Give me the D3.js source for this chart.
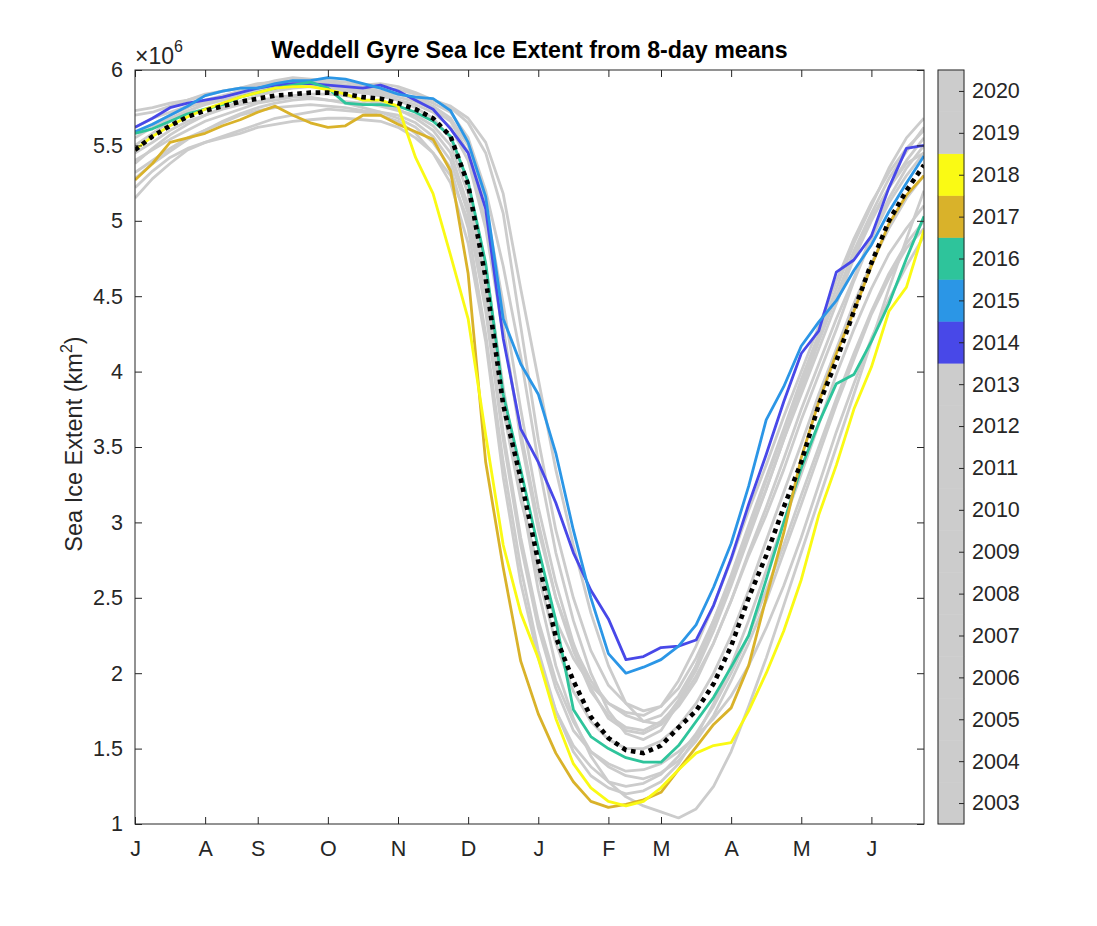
<!DOCTYPE html>
<html><head><meta charset="utf-8">
<script src="https://cdn.jsdelivr.net/npm/d3@7"></script>
<style>body{margin:0;background:#fff}text{font-family:"Liberation Sans",Arial,Helvetica,sans-serif}</style>
</head><body><svg id="c" width="1097" height="926"></svg>
<script>
// ---- data (extent in millions of km^2, 46 eight-day periods starting 1 July) ----
const monthTicks  = [1, 5, 8, 12, 16, 20, 24, 28, 31, 35, 39, 43];
const monthLabels = ["J","A","S","O","N","D","J","F","M","A","M","J"];
const yTicks = [1, 1.5, 2, 2.5, 3, 3.5, 4, 4.5, 5, 5.5, 6];
const years = [2003,2004,2005,2006,2007,2008,2009,2010,2011,2012,2013,2014,2015,2016,2017,2018,2019,2020];
const highlightYears  = [2014, 2015, 2016, 2017, 2018];
const highlightColors = ["#4848e8", "#2b96e6", "#2ec49b", "#d9b22a", "#fafa14"];
const greyColor = "#cccccc";

const ext2003 = [5.73,5.75,5.78,5.80,5.83,5.86,5.88,5.90,5.93,5.95,5.94,5.93,5.92,5.90,5.91,5.89,5.85,5.80,5.76,5.68,5.52,5.18,4.55,3.95,3.35,2.85,2.40,2.05,1.80,1.68,1.66,1.78,1.95,2.20,2.48,2.80,3.10,3.42,3.75,4.05,4.35,4.62,4.90,5.15,5.35,5.50];
const ext2004 = [5.70,5.72,5.76,5.80,5.84,5.86,5.88,5.91,5.92,5.93,5.91,5.90,5.88,5.86,5.85,5.84,5.82,5.78,5.72,5.55,5.20,4.70,4.10,3.40,2.80,2.35,2.00,1.75,1.60,1.56,1.62,1.80,2.05,2.35,2.65,2.98,3.30,3.62,3.95,4.25,4.55,4.85,5.10,5.35,5.55,5.68];
const ext2005 = [5.15,5.28,5.38,5.47,5.52,5.56,5.60,5.64,5.68,5.70,5.72,5.74,5.73,5.72,5.70,5.66,5.58,5.45,5.25,4.85,4.20,3.30,2.60,2.10,1.75,1.52,1.38,1.28,1.25,1.27,1.33,1.45,1.60,1.78,2.00,2.25,2.55,2.85,3.18,3.50,3.82,4.12,4.40,4.65,4.85,5.00];
const ext2006 = [5.38,5.48,5.57,5.64,5.70,5.75,5.79,5.83,5.86,5.88,5.89,5.88,5.86,5.85,5.83,5.80,5.77,5.72,5.62,5.40,4.95,4.25,3.60,3.00,2.50,2.15,1.88,1.72,1.64,1.62,1.68,1.80,1.98,2.20,2.48,2.78,3.05,3.35,3.68,3.98,4.28,4.60,4.88,5.12,5.30,5.45];
const ext2007 = [5.22,5.33,5.42,5.48,5.52,5.55,5.58,5.62,5.64,5.66,5.67,5.68,5.68,5.67,5.66,5.62,5.55,5.45,5.30,5.00,4.45,3.60,2.90,2.35,1.95,1.68,1.48,1.38,1.32,1.30,1.34,1.42,1.55,1.72,1.95,2.20,2.48,2.80,3.12,3.45,3.78,4.08,4.38,4.62,4.82,4.95];
const ext2008 = [5.55,5.62,5.68,5.73,5.77,5.80,5.83,5.86,5.88,5.89,5.90,5.89,5.87,5.85,5.83,5.80,5.75,5.68,5.55,5.25,4.70,3.90,3.20,2.55,2.05,1.70,1.45,1.28,1.18,1.12,1.08,1.04,1.10,1.25,1.48,1.78,2.10,2.45,2.80,3.15,3.50,3.85,4.20,4.55,4.88,5.20];
const ext2009 = [5.45,5.52,5.60,5.66,5.70,5.74,5.77,5.79,5.82,5.83,5.84,5.84,5.83,5.80,5.78,5.74,5.68,5.60,5.45,5.10,4.50,3.75,3.15,2.70,2.35,2.10,1.92,1.80,1.74,1.72,1.78,1.95,2.18,2.45,2.75,3.08,3.38,3.70,4.00,4.30,4.60,4.88,5.12,5.32,5.48,5.60];
const ext2010 = [5.62,5.68,5.72,5.76,5.80,5.83,5.86,5.89,5.91,5.92,5.92,5.91,5.90,5.89,5.88,5.87,5.84,5.80,5.75,5.65,5.45,5.05,4.30,3.55,2.95,2.50,2.15,1.92,1.80,1.75,1.78,1.90,2.10,2.35,2.62,2.92,3.22,3.55,3.85,4.15,4.45,4.75,5.00,5.22,5.40,5.55];
const ext2011 = [5.32,5.40,5.48,5.55,5.60,5.65,5.70,5.73,5.75,5.76,5.77,5.76,5.75,5.73,5.72,5.70,5.65,5.56,5.40,5.05,4.40,3.55,2.85,2.30,1.90,1.62,1.48,1.40,1.35,1.36,1.40,1.48,1.58,1.70,1.85,2.05,2.30,2.58,2.90,3.25,3.60,3.92,4.22,4.48,4.70,4.90];
const ext2012 = [5.50,5.58,5.66,5.72,5.78,5.82,5.86,5.89,5.91,5.93,5.93,5.92,5.90,5.88,5.86,5.84,5.81,5.76,5.68,5.50,5.10,4.45,3.75,3.10,2.60,2.20,1.90,1.70,1.62,1.60,1.66,1.82,2.02,2.28,2.58,2.90,3.22,3.55,3.88,4.20,4.50,4.80,5.05,5.28,5.46,5.62];
const ext2013 = [5.40,5.47,5.54,5.60,5.66,5.70,5.74,5.78,5.80,5.82,5.82,5.80,5.79,5.78,5.76,5.73,5.70,5.63,5.50,5.18,4.60,3.85,3.20,2.65,2.20,1.88,1.68,1.56,1.50,1.50,1.55,1.65,1.80,2.00,2.25,2.55,2.88,3.20,3.52,3.85,4.15,4.45,4.72,4.95,5.15,5.30];
const ext2014 = [5.62,5.68,5.75,5.78,5.80,5.82,5.85,5.88,5.90,5.91,5.91,5.90,5.89,5.88,5.90,5.86,5.80,5.74,5.61,5.45,5.08,4.22,3.62,3.40,3.13,2.80,2.55,2.36,2.09,2.11,2.17,2.18,2.22,2.45,2.76,3.12,3.45,3.80,4.12,4.27,4.66,4.74,4.90,5.22,5.48,5.50];
const ext2015 = [5.59,5.64,5.70,5.76,5.83,5.86,5.88,5.88,5.91,5.93,5.93,5.95,5.94,5.91,5.88,5.84,5.82,5.81,5.73,5.52,5.16,4.35,4.05,3.85,3.46,2.95,2.50,2.13,2.00,2.04,2.09,2.18,2.32,2.57,2.86,3.24,3.68,3.90,4.17,4.33,4.47,4.67,4.84,5.06,5.25,5.43];
const ext2016 = [5.58,5.61,5.66,5.71,5.74,5.77,5.82,5.85,5.88,5.90,5.92,5.88,5.78,5.77,5.77,5.76,5.72,5.66,5.56,5.26,4.72,3.85,3.35,2.83,2.35,1.76,1.58,1.50,1.44,1.41,1.41,1.52,1.68,1.84,2.04,2.25,2.62,3.00,3.36,3.66,3.92,3.98,4.20,4.45,4.75,5.03];
const ext2017 = [5.27,5.38,5.52,5.55,5.58,5.63,5.67,5.72,5.76,5.70,5.65,5.62,5.63,5.70,5.70,5.64,5.59,5.54,5.33,4.65,3.40,2.70,2.08,1.73,1.47,1.28,1.15,1.11,1.13,1.16,1.21,1.36,1.51,1.66,1.77,2.05,2.50,2.93,3.43,3.80,4.12,4.40,4.70,4.98,5.17,5.30];
const ext2018 = [5.47,5.56,5.63,5.69,5.74,5.78,5.82,5.85,5.88,5.89,5.89,5.87,5.84,5.80,5.80,5.76,5.42,5.18,4.77,4.35,3.58,2.85,2.40,2.10,1.70,1.40,1.24,1.15,1.12,1.15,1.24,1.36,1.47,1.52,1.54,1.75,2.00,2.28,2.62,3.05,3.38,3.75,4.03,4.40,4.56,4.94];
const ext2019 = [5.28,5.38,5.46,5.54,5.60,5.66,5.71,5.75,5.78,5.80,5.81,5.80,5.78,5.75,5.72,5.68,5.62,5.52,5.35,4.95,4.25,3.40,2.70,2.15,1.75,1.48,1.32,1.24,1.20,1.22,1.28,1.40,1.58,1.80,2.05,2.35,2.68,3.00,3.32,3.65,3.98,4.28,4.55,4.78,4.95,5.10];
const ext2020 = [5.58,5.64,5.70,5.75,5.79,5.82,5.85,5.87,5.89,5.90,5.90,5.89,5.88,5.86,5.84,5.82,5.79,5.74,5.66,5.45,5.00,4.30,3.55,2.95,2.50,2.18,1.95,1.80,1.72,1.68,1.72,1.85,2.05,2.32,2.62,2.95,3.28,3.60,3.92,4.22,4.50,4.78,5.02,5.22,5.38,5.45];
const extMean = [5.47,5.56,5.63,5.69,5.73,5.76,5.79,5.81,5.83,5.84,5.85,5.85,5.84,5.82,5.81,5.78,5.74,5.68,5.56,5.24,4.62,3.78,3.29,2.74,2.24,1.95,1.71,1.57,1.49,1.47,1.52,1.64,1.75,1.93,2.18,2.50,2.78,3.10,3.40,3.78,4.07,4.40,4.72,5.00,5.20,5.37];

const series = {2003:ext2003,2004:ext2004,2005:ext2005,2006:ext2006,2007:ext2007,2008:ext2008,2009:ext2009,
  2010:ext2010,2011:ext2011,2012:ext2012,2013:ext2013,2014:ext2014,2015:ext2015,2016:ext2016,2017:ext2017,
  2018:ext2018,2019:ext2019,2020:ext2020};

// ---- layout ----
const L = 135, R = 924, T = 70, B = 824;
const svg = d3.select("#c");
svg.append("rect").attr("width",1097).attr("height",926).attr("fill","#fff");

const x = d3.scaleLinear().domain([1, 46]).range([L, R]);
const y = d3.scaleLinear().domain([1, 6]).range([B, T]);
const colorOf = yr => { const k = highlightYears.indexOf(yr); return k < 0 ? greyColor : highlightColors[k]; };

svg.append("clipPath").attr("id","clip").append("rect").attr("x",L).attr("y",T).attr("width",R-L).attr("height",B-T);
const g = svg.append("g").attr("clip-path","url(#clip)");
const line = d3.line().x((d,i) => x(i+1)).y(d => y(d));

const order = years.filter(v => highlightYears.indexOf(v) < 0).concat(highlightYears);
order.forEach(yr => {
  g.append("path").datum(series[yr]).attr("d", line)
    .attr("fill","none").attr("stroke", colorOf(yr)).attr("stroke-width", 2.8)
    .attr("stroke-linejoin","round");
});
g.append("path").datum(extMean).attr("d", line)
  .attr("fill","none").attr("stroke","#000").attr("stroke-width",4.6)
  .attr("stroke-dasharray","4.6,4.6");

// ---- axes ----
const axisColor = "#262626";
const fs = "21.5px";
const xb = svg.append("g").attr("transform",`translate(0,${B})`)
  .call(d3.axisBottom(x).tickValues(monthTicks).tickFormat((d,i)=>monthLabels[i]).tickSizeInner(-7).tickSizeOuter(0).tickPadding(17));
const xt = svg.append("g").attr("transform",`translate(0,${T})`)
  .call(d3.axisTop(x).tickValues(monthTicks).tickFormat("").tickSizeInner(-7).tickSizeOuter(0));
const yl = svg.append("g").attr("transform",`translate(${L},0)`)
  .call(d3.axisLeft(y).tickValues(yTicks).tickFormat(d3.format("~g")).tickSizeInner(-7).tickSizeOuter(0).tickPadding(12));
const yr_ = svg.append("g").attr("transform",`translate(${R},0)`)
  .call(d3.axisRight(y).tickValues(yTicks).tickFormat("").tickSizeInner(-7).tickSizeOuter(0));
[xb,xt,yl,yr_].forEach(a => {
  a.select(".domain").remove();
  a.selectAll("line").attr("stroke",axisColor).attr("stroke-width",1);
  a.selectAll("text").attr("fill",axisColor).style("font-size",fs).style("font-family",'"Liberation Sans",Arial,sans-serif');
});
svg.append("rect").attr("x",L).attr("y",T).attr("width",R-L).attr("height",B-T)
  .attr("fill","none").attr("stroke",axisColor).attr("stroke-width",1);

// exponent
const ex = svg.append("text").attr("x",L).attr("y",64).attr("fill",axisColor).attr("font-size",23).style("font-size","23px");
ex.append("tspan").attr("font-size",23).style("font-size","23px").text("\u00d710");
ex.append("tspan").attr("dy",-12).attr("font-size",16).style("font-size","16px").text("6");

// title
svg.append("text").attr("x",(L+R)/2).attr("y",58).attr("text-anchor","middle")
  .attr("fill","#000").style("font-size","23.2px").style("font-weight","bold")
  .text("Weddell Gyre Sea Ice Extent from 8-day means");

// y label
const yt = svg.append("text").attr("transform",`translate(82,${(T+B)/2 - 3}) rotate(-90)`)
  .attr("text-anchor","middle").attr("fill",axisColor).style("font-size","23.5px");
yt.append("tspan").text("Sea Ice Extent (km");
yt.append("tspan").attr("dy",-10).style("font-size","16px").text("2");
yt.append("tspan").attr("dy",10).text(")");

// ---- colorbar ----
const cbL = 938, cbW = 26;
const cy = d3.scaleLinear().domain([years[0]-0.5, years[years.length-1]+0.5]).range([B, T]);
const cb = svg.append("g");
cb.selectAll("rect.seg").data(years).join("rect").attr("class","seg")
  .attr("x",cbL).attr("width",cbW)
  .attr("y",d => cy(d+0.5)).attr("height",d => cy(d-0.5)-cy(d+0.5))
  .attr("fill",d => colorOf(d)).attr("stroke",d => colorOf(d)).attr("stroke-width",0.5);
const cax = svg.append("g").attr("transform",`translate(${cbL+cbW},0)`)
  .call(d3.axisRight(cy).tickValues(years).tickFormat(d3.format("d")).tickSizeInner(-5).tickSizeOuter(0).tickPadding(8));
cax.select(".domain").remove();
cax.selectAll("line").attr("stroke",axisColor);
cax.selectAll("text").attr("fill",axisColor).style("font-size",fs);
svg.append("rect").attr("x",cbL).attr("y",T).attr("width",cbW).attr("height",B-T)
  .attr("fill","none").attr("stroke",axisColor).attr("stroke-width",1);
</script></body></html>
